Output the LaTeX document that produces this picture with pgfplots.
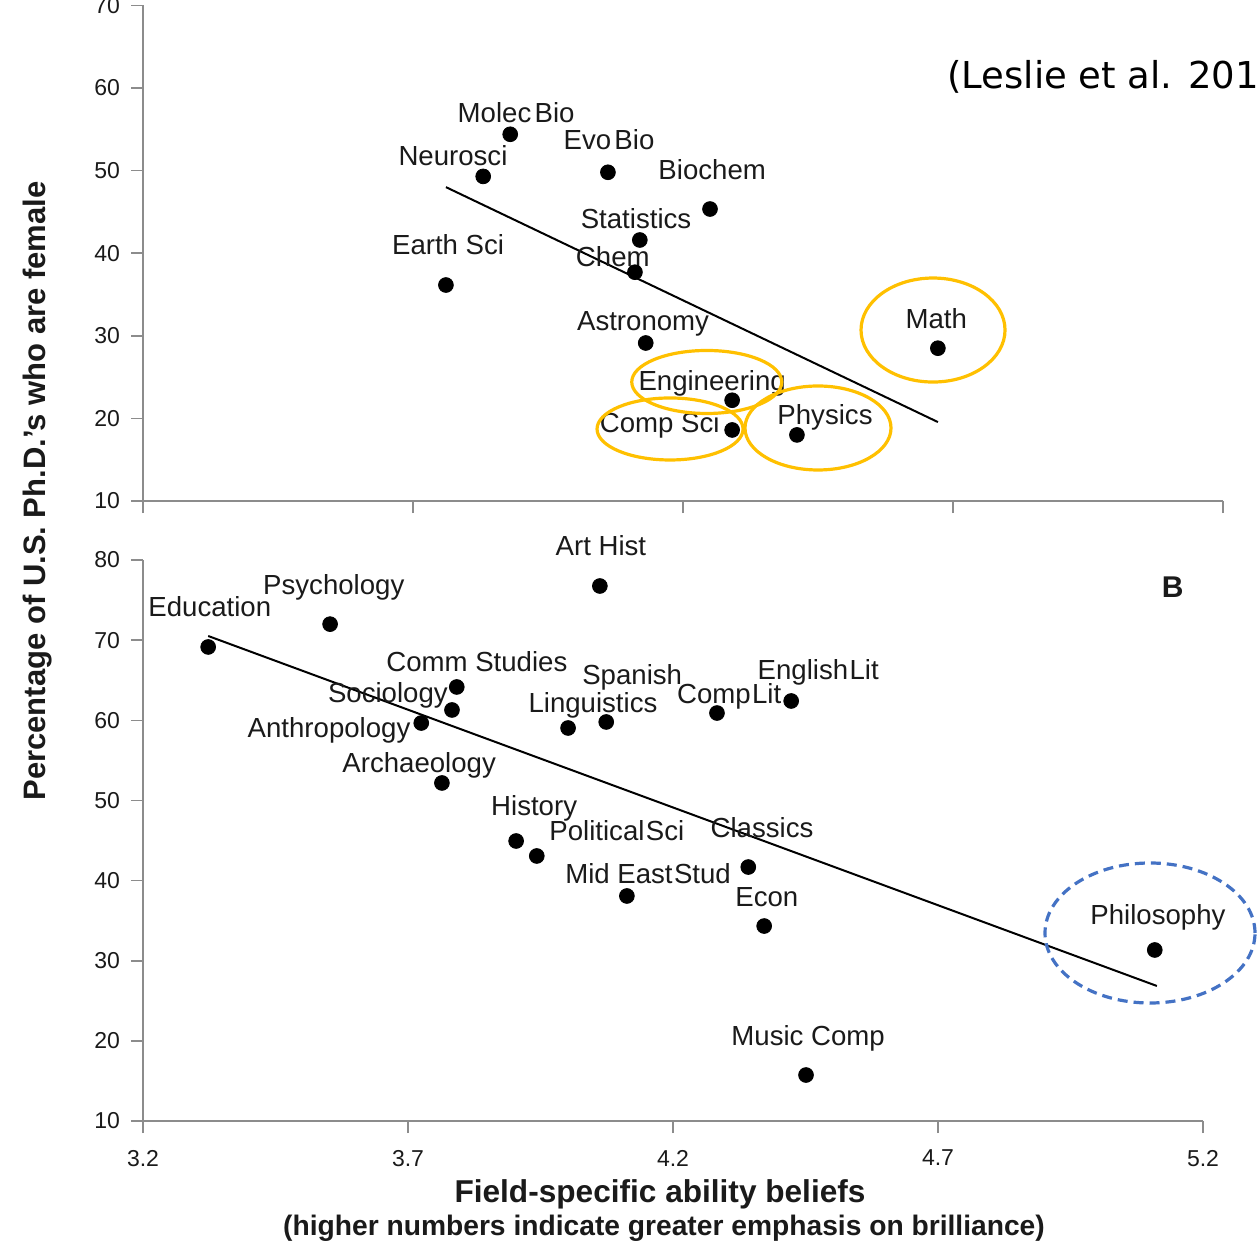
\documentclass[border=0pt]{standalone}
\usepackage{fontspec}
\setmainfont{Liberation Sans}
\newfontfamily\dejavu{DejaVu Sans}
\usepackage{pgfplots}
\pgfplotsset{compat=1.18}
\definecolor{orng}{HTML}{FFC000}
\definecolor{blu}{HTML}{4472C4}
\definecolor{axgray}{HTML}{8C8C8C}
\definecolor{txt}{HTML}{1A1A1A}
\newcommand\lbl{\fontsize{13.8bp}{16bp}\selectfont}
\newcommand\tkl{\fontsize{11.5bp}{13bp}\selectfont}
\pgfplotsset{
 myax/.style={
  scale only axis, clip=false,
  xmin=3.2, xmax=5.2,
  axis x line*=bottom, axis y line*=left,
  axis line style={axgray, line width=0.8bp},
  tick style={axgray, line width=0.8bp},
  major tick length=6bp, tick align=outside,
  xtick={3.2,3.7,4.2,4.7,5.2},
  ticklabel style={font=\tkl, text=txt},
  /pgf/number format/assume math mode=true,
  yticklabel style={xshift=-2bp},
  xticklabel style={yshift=-5bp},
 },
 dots/.style={only marks, mark=*, mark size=3.7bp, mark options={fill=black, draw=black}, black},
}
\tikzset{lab/.style={font=\lbl, text=txt, inner sep=0pt, text height=0.72em, text depth=0pt}}
\begin{document}
\begin{tikzpicture}
\path[use as bounding box] (0bp,0bp) rectangle (629bp,-621bp);
\clip (0bp,0bp) rectangle (629bp,-621bp);

% ---------------- top panel ----------------
\begin{axis}[myax, at={(71.5bp,-250.5bp)}, anchor=south west,
  width=540bp, height=247.8bp, ymin=10, ymax=70, ytick={10,20,...,70},
  xticklabels={}]
\addplot[black, line width=1bp] coordinates {(3.761,48.0) (4.672,19.56)};
\addplot[dots] table {
x y
3.880 54.4
3.830 49.3
4.061 49.8
4.250 45.35
4.120 41.6
4.111 37.7
3.761 36.15
4.131 29.13
4.291 22.2
4.291 18.6
4.411 18.0
4.672 28.5
};
\node[lab] at (axis cs:3.891,56.73) {Molec\kern0.12em Bio};
\node[lab] at (axis cs:3.774,51.53) {Neurosci};
\node[lab] at (axis cs:4.063,53.46) {Evo\kern0.12em Bio};
\node[lab] at (axis cs:4.254,49.83) {Biochem};
\node[lab] at (axis cs:4.113,43.90) {Statistics};
\node[lab] at (axis cs:4.070,39.30) {Chem};
\node[lab] at (axis cs:3.765,40.75) {Earth Sci};
\node[lab] at (axis cs:4.126,31.55) {Astronomy};
\node[lab] at (axis cs:4.254,24.29) {Engineering};
\node[lab] at (axis cs:4.157,19.20) {Comp Sci};
\node[lab] at (axis cs:4.463,20.17) {Physics};
\node[lab] at (axis cs:4.669,31.79) {Math};
\draw[orng, line width=1.6bp] (axis cs:4.663,30.70) ellipse [x radius=36bp, y radius=26bp];
\draw[orng, line width=1.6bp] (axis cs:4.244,24.41) ellipse [x radius=37.5bp, y radius=15.75bp];
\draw[orng, line width=1.6bp] (axis cs:4.176,18.72) ellipse [x radius=36.5bp, y radius=15.5bp];
\draw[orng, line width=1.6bp] (axis cs:4.450,18.84) ellipse [x radius=36.5bp, y radius=21bp];
\end{axis}

% ---------------- bottom panel ----------------
\begin{axis}[myax, at={(71.5bp,-560.5bp)}, anchor=south west,
  width=530bp, height=280.5bp, ymin=10, ymax=80, ytick={10,20,...,80},
  xticklabels={3.2,3.7,4.2,4.7,5.2}]
\addplot[black, line width=1bp] coordinates {(3.323,70.52) (5.113,26.85)};
\addplot[dots] table {
x y
3.323 69.15
3.553 72.0
4.062 76.76
3.792 64.16
3.783 61.29
3.725 59.66
4.002 59.04
4.074 59.79
4.283 60.91
4.423 62.41
3.764 52.18
3.904 44.94
3.943 43.07
4.113 38.08
4.342 41.69
4.372 34.33
4.451 15.74
5.109 31.34
};
\node[lab] at (axis cs:4.064,81.50) {Art Hist};
\node[lab] at (axis cs:3.560,76.63) {Psychology};
\node[lab] at (axis cs:3.326,73.89) {Education};
\node[lab] at (axis cs:3.830,67.03) {Comm Studies};
\node[lab] at (axis cs:4.123,65.40) {Spanish};
\node[lab] at (axis cs:4.474,66.03) {English\kern0.05em Lit};
\node[lab] at (axis cs:3.662,63.16) {Sociology};
\node[lab] at (axis cs:4.049,61.91) {Linguistics};
\node[lab] at (axis cs:4.306,63.03) {Comp\kern0.05em Lit};
\node[lab] at (axis cs:3.551,58.79) {Anthropology};
\node[lab] at (axis cs:3.721,54.42) {Archaeology};
\node[lab] at (axis cs:3.938,49.06) {History};
\node[lab] at (axis cs:4.094,45.94) {Political\kern0.05em Sci};
\node[lab] at (axis cs:4.368,46.31) {Classics};
\node[lab] at (axis cs:4.153,40.57) {Mid East\kern0.05em Stud};
\node[lab] at (axis cs:4.377,37.70) {Econ};
\node[lab] at (axis cs:5.115,35.46) {Philosophy};
\node[lab] at (axis cs:4.455,20.36) {Music Comp};
\node[lab, font=\fontsize{15bp}{17bp}\selectfont\bfseries] at (axis cs:5.143,76.26) {B};
\draw[blu, line width=1.6bp, dash pattern=on 5bp off 3bp] (axis cs:5.100,33.46) ellipse [x radius=52.5bp, y radius=35bp];
\end{axis}

% ---------------- titles ----------------
\node[rotate=90, anchor=base, inner sep=0pt, text=txt, font=\fontsize{15.5bp}{17bp}\selectfont\bfseries] at (22.5bp,-245.5bp) {Percentage of U.S. Ph.D.’s who are female};
\node[anchor=base, inner sep=0pt, text=txt, font=\fontsize{15.8bp}{18bp}\selectfont\bfseries] at (330bp,-601bp) {Field-specific ability beliefs};
\node[anchor=base, inner sep=0pt, text=txt, font=\fontsize{14.1bp}{16bp}\selectfont\bfseries] at (332bp,-617.5bp) {(higher numbers indicate greater emphasis on brilliance)};
\node[anchor=base west, inner sep=0pt, font=\dejavu\fontsize{18.5bp}{20bp}\selectfont] at (473.5bp,-44bp) {(Leslie et al. 2015)};
\end{tikzpicture}
\end{document}
